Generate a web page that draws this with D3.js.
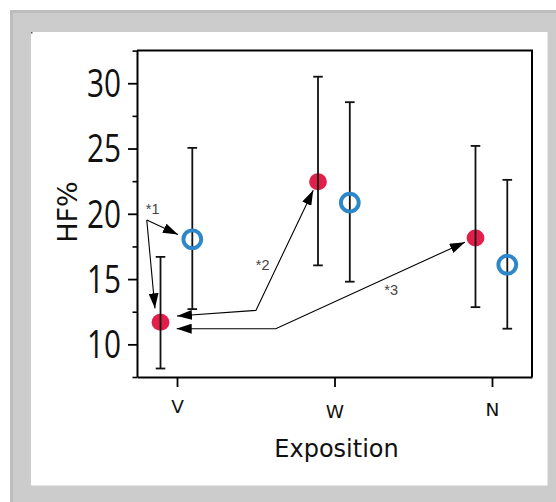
<!DOCTYPE html>
<html>
<head>
<meta charset="utf-8">
<script src="https://cdn.jsdelivr.net/npm/d3@7"></script>
<style>
  html, body { margin: 0; padding: 0; background: #fff; }
  svg { display: block; }
</style>
</head>
<body>
<div id="chart"></div>
<script>
// data
const categories = ["V", "W", "N"];
const filledMean = [11.7, 22.45, 18.15];
const filledLow = [8.15, 16.05, 12.85];
const filledHigh = [16.7, 30.5, 25.2];
const openMean = [18.05, 20.85, 16.1];
const openLow = [12.7, 14.8, 11.2];
const openHigh = [25.05, 28.55, 22.6];
const yMajorTicks = [10, 15, 20, 25, 30];
const yMinorTicks = [7.5, 12.5, 17.5, 22.5, 27.5, 32.5];

// annotation polylines, points as [category index, HF% value]
const notes = [
  { label: "*1", at: [-0.198, 19.95], lines: [
      { pts: [[-0.192, 19.52], [0.006, 18.42]], start: false, end: true },
      { pts: [[-0.192, 19.52], [-0.14, 12.76]], start: false, end: true }
  ]},
  { label: "*2", at: [0.5, 15.7], lines: [
      { pts: [[0.0, 12.17], [0.501, 12.6], [0.865, 21.81]], start: true, end: true }
  ]},
  { label: "*3", at: [1.316, 13.75], lines: [
      { pts: [[-0.002, 11.2], [0.627, 11.2], [1.828, 17.83]], start: true, end: true }
  ]}
];

const width = 556, height = 502;
const plot = { left: 137, right: 532, top: 50.6, bottom: 377 };

const svg = d3.select("#chart").append("svg")
    .attr("width", width)
    .attr("height", height);

// grey frame round the white panel
svg.append("rect").attr("x", 10).attr("y", 10).attr("width", width - 10).attr("height", height - 10)
    .attr("fill", "#cccccc");
svg.append("path").attr("d", "M11.5,502V11.5H556").attr("fill", "none")
    .attr("stroke", "#bdbdbd").attr("stroke-width", 3);
svg.append("rect").attr("x", 31).attr("y", 32).attr("width", 516.5).attr("height", 453.5)
    .attr("fill", "#ffffff");
svg.append("rect").attr("x", 31).attr("y", 32).attr("width", 1.5).attr("height", 1.5)
    .attr("fill", "#555");

const x = d3.scalePoint()
    .domain(categories)
    .range([plot.left, plot.right])
    .padding(0.254);

const y = d3.scaleLinear()
    .domain([7.5, 32.5])
    .range([plot.bottom, plot.top]);

const xi = i => x(categories[0]) + i * x.step();

// box frame top and right
svg.append("path")
    .attr("d", `M${plot.left},${plot.top}H${plot.right}V${plot.bottom}`)
    .attr("fill", "none").attr("stroke", "#000").attr("stroke-width", 2);

// y axis, minor ticks first
svg.append("g")
    .attr("transform", `translate(${plot.left},0)`)
    .call(d3.axisLeft(y).tickValues(yMinorTicks).tickSize(4.5).tickSizeOuter(0).tickFormat(""))
    .call(g => g.select(".domain").attr("stroke-width", 2))
    .call(g => g.selectAll(".tick line").attr("stroke-width", 1.6));

svg.append("g")
    .attr("transform", `translate(${plot.left},0)`)
    .call(d3.axisLeft(y).tickValues(yMajorTicks).tickSize(9).tickSizeOuter(0).tickPadding(7))
    .call(g => g.select(".domain").remove())
    .call(g => g.selectAll(".tick line").attr("stroke-width", 1.8))
    .call(g => g.selectAll(".tick text")
        .attr("font-family", "Open Sans, Noto Sans, sans-serif")
        .attr("font-size", 38)
        .attr("fill", "#111")
        .attr("dy", "0.35em")
        .attr("textLength", 34)
        .attr("lengthAdjust", "spacingAndGlyphs"));

// x axis
const labelDrop = [0, 5, 3];
svg.append("g")
    .attr("transform", `translate(0,${plot.bottom})`)
    .call(d3.axisBottom(x).tickSize(10).tickSizeOuter(0))
    .call(g => g.select(".domain").attr("stroke-width", 2))
    .call(g => g.selectAll(".tick line").attr("stroke-width", 1.8))
    .call(g => g.selectAll(".tick text")
        .attr("font-family", "DejaVu Sans")
        .attr("font-size", 18.5)
        .attr("fill", "#111")
        .attr("dy", null)
        .attr("y", (d, i) => 36 + labelDrop[i]));

// axis titles
svg.append("text")
    .attr("transform", "translate(76.5,212) rotate(-90)")
    .attr("text-anchor", "middle")
    .attr("font-family", "DejaVu Sans")
    .attr("font-size", 27)
    .attr("fill", "#111")
    .text("HF%");

svg.append("text")
    .attr("x", 336.5)
    .attr("y", 457)
    .attr("text-anchor", "middle")
    .attr("font-family", "DejaVu Sans")
    .attr("font-size", 24)
    .attr("fill", "#111")
    .text("Exposition");

// series
const filledX = -16.5, openX = 15.3;
const filled = categories.map((c, i) => ({ c, m: filledMean[i], lo: filledLow[i], hi: filledHigh[i] }));
const open = categories.map((c, i) => ({ c, m: openMean[i], lo: openLow[i], hi: openHigh[i] }));

svg.append("g").selectAll("ellipse")
    .data(filled)
    .join("ellipse")
    .attr("cx", d => x(d.c) + filledX)
    .attr("cy", d => y(d.m))
    .attr("rx", 8.9)
    .attr("ry", 8.5)
    .attr("fill", "#e21f4a");

function errorBars(data, dx) {
  const g = svg.append("g").attr("stroke", "#111").attr("stroke-width", 1.8);
  g.selectAll(".stem").data(data).join("line")
      .attr("x1", d => x(d.c) + dx).attr("x2", d => x(d.c) + dx)
      .attr("y1", d => y(d.lo)).attr("y2", d => y(d.hi));
  g.selectAll(".capHi").data(data).join("line")
      .attr("x1", d => x(d.c) + dx - 4.8).attr("x2", d => x(d.c) + dx + 4.8)
      .attr("y1", d => y(d.hi)).attr("y2", d => y(d.hi));
  g.selectAll(".capLo").data(data).join("line")
      .attr("x1", d => x(d.c) + dx - 4.8).attr("x2", d => x(d.c) + dx + 4.8)
      .attr("y1", d => y(d.lo)).attr("y2", d => y(d.lo));
}
errorBars(filled, filledX);
errorBars(open, openX);

svg.append("g").selectAll("circle")
    .data(open)
    .join("circle")
    .attr("cx", d => x(d.c) + openX)
    .attr("cy", d => y(d.m))
    .attr("r", 8.9)
    .attr("fill", "none")
    .attr("stroke", "#2d87c9")
    .attr("stroke-width", 3.9);

// annotations
svg.append("defs").append("marker")
    .attr("id", "head")
    .attr("markerUnits", "userSpaceOnUse")
    .attr("viewBox", "0 -5 15 10")
    .attr("refX", 15)
    .attr("refY", 0)
    .attr("markerWidth", 15)
    .attr("markerHeight", 10)
    .attr("orient", "auto-start-reverse")
    .append("path")
    .attr("d", "M0,-5L15,0L0,5Z")
    .attr("fill", "#000");

const line = d3.line().x(p => xi(p[0])).y(p => y(p[1]));
const ann = svg.append("g");
notes.forEach(n => {
  n.lines.forEach(l => {
    ann.append("path")
        .attr("d", line(l.pts))
        .attr("fill", "none")
        .attr("stroke", "#000")
        .attr("stroke-width", 1.1)
        .attr("marker-start", l.start ? "url(#head)" : null)
        .attr("marker-end", l.end ? "url(#head)" : null);
  });
  ann.append("text")
      .attr("x", xi(n.at[0]))
      .attr("y", y(n.at[1]))
      .attr("font-family", "Liberation Sans, Arial, sans-serif")
      .attr("font-size", 14.5)
      .attr("fill", "#444")
      .text(n.label);
});
</script>
</body>
</html>
